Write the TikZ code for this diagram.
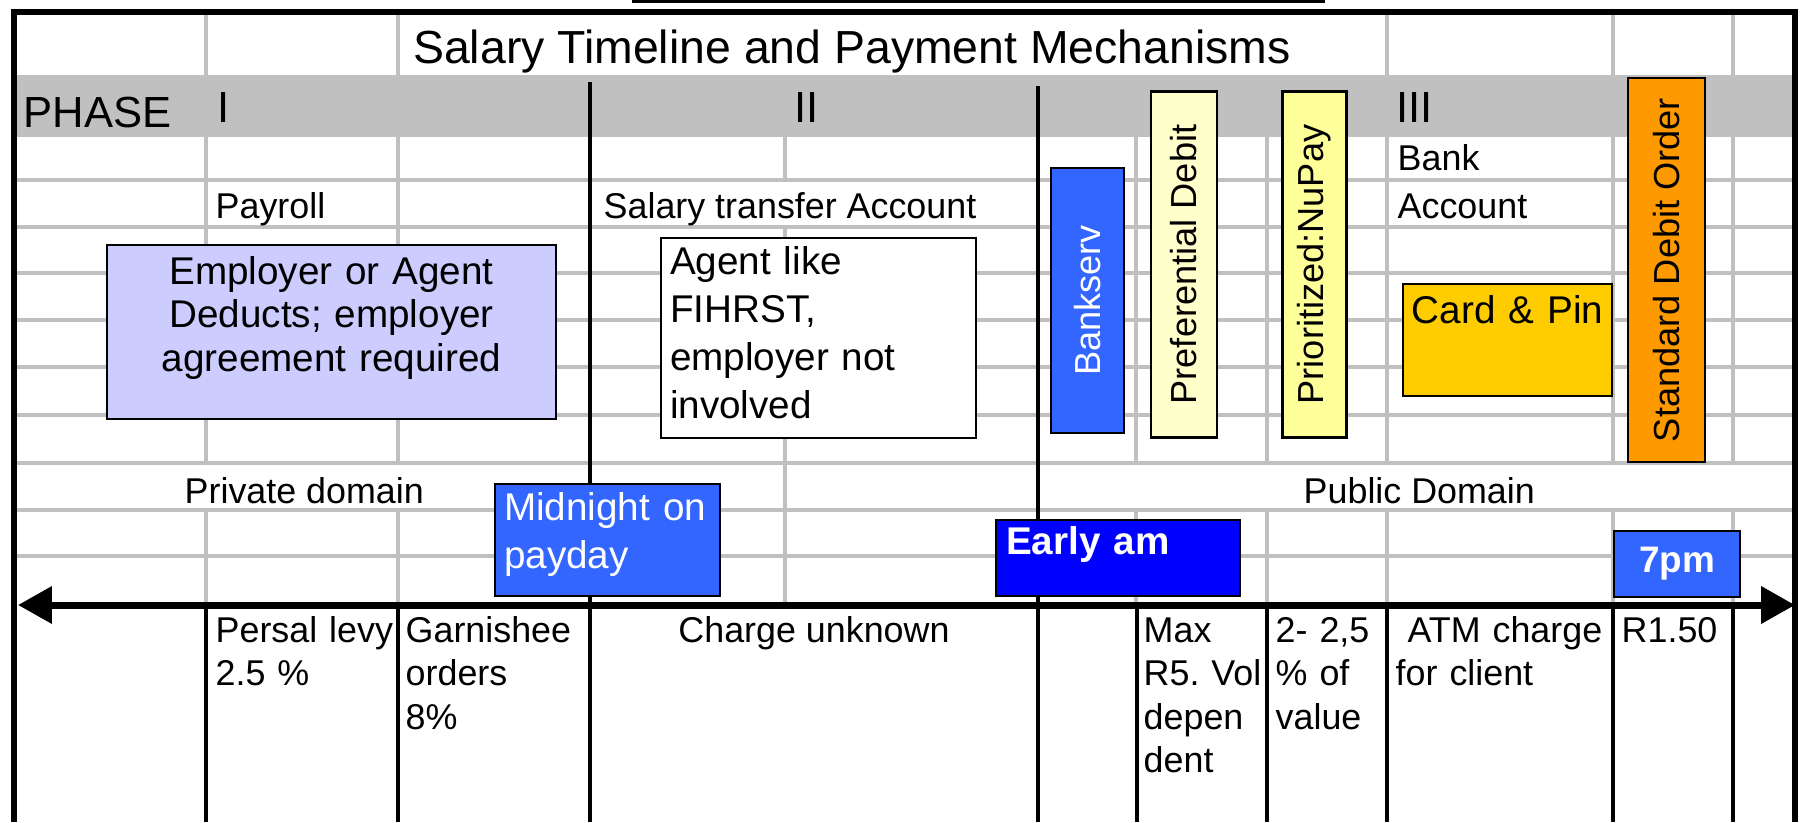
\documentclass[tikz,border=0pt]{standalone}
\usepackage{fontspec}
\setmainfont{Liberation Sans}
\usetikzlibrary{arrows.meta}
\frenchspacing

\definecolor{gridgray}{HTML}{C0C0C0}
\definecolor{lilac}{HTML}{CCCCFF}
\definecolor{midblue}{HTML}{3366FF}
\definecolor{pureblue}{HTML}{0000FF}
\definecolor{paleyellow}{HTML}{FFFFCC}
\definecolor{lightyellow}{HTML}{FFFF99}
\definecolor{cardgold}{HTML}{FFCC00}
\definecolor{debitorange}{HTML}{FF9900}

\begin{document}
\begin{tikzpicture}[
    gridline/.style={gridgray, line width=1.1pt},
    tableborder/.style={black, line width=1.5pt},
    divider/.style={black, line width=1.4pt},
    timeline/.style={line width=2pt, {Triangle[length=0.34cm, width=0.36cm]}-{Triangle[length=0.34cm, width=0.36cm]}},
    celltext/.style={inner sep=0pt, anchor=base west, align=left, font=\fontsize{10.2}{12.4}\selectfont},
    phasetext/.style={inner sep=0pt, anchor=base west, font=\fontsize{12.4}{14}\selectfont},
    box/.style={draw, line width=0.6pt, anchor=north west, inner ysep=0pt, font=\fontsize{11}{13.66}\selectfont},
    tallbox/.style={draw, line width=0.6pt, rotate=90, inner sep=0pt, font=\fontsize{10.3}{12}\selectfont}
]
\useasboundingbox (0,0) rectangle (18.05,-8.22);

% ===== TABLE: band, grid and borders =====
\draw[line width=1pt] (6.32,-0.01) -- (13.25,-0.01);
\fill[gridgray] (0.14,-0.75) rectangle (17.95,-1.37);

% Grey rows
\draw[gridline] (0.14,-1.80) -- (17.95,-1.80) (0.14,-2.27) -- (17.95,-2.27)
                (0.14,-2.73) -- (17.95,-2.73) (0.14,-3.20) -- (17.95,-3.20)
                (0.14,-3.67) -- (17.95,-3.67) (0.14,-4.15) -- (17.95,-4.15)
                (0.14,-4.63) -- (17.95,-4.63) (0.14,-5.10) -- (17.95,-5.10)
                (0.14,-5.56) -- (17.95,-5.56);

% Grey columns (broken where cells are merged)
\draw[gridline] (2.06,-0.12) -- (2.06,-0.75) (2.06,-1.37) -- (2.06,-4.63) (2.06,-5.10) -- (2.06,-6.05);
\draw[gridline] (3.98,-0.12) -- (3.98,-0.75) (3.98,-1.37) -- (3.98,-4.63) (3.98,-5.10) -- (3.98,-6.05);
\draw[gridline] (7.85,-1.37) -- (7.85,-1.80) (7.85,-2.27) -- (7.85,-6.05);
\draw[gridline] (11.36,-1.37) -- (11.36,-4.63) (11.36,-5.10) -- (11.36,-6.05);
\draw[gridline] (12.67,-1.37) -- (12.67,-4.63) (12.67,-5.10) -- (12.67,-6.05);
\draw[gridline] (13.87,-0.12) -- (13.87,-0.75) (13.87,-1.37) -- (13.87,-4.63) (13.87,-5.10) -- (13.87,-6.05);
\draw[gridline] (16.13,-0.12) -- (16.13,-0.75) (16.13,-1.37) -- (16.13,-4.63) (16.13,-5.10) -- (16.13,-6.05);
\draw[gridline] (17.33,-0.12) -- (17.33,-0.75) (17.33,-1.37) -- (17.33,-4.63) (17.33,-5.10) -- (17.33,-6.05);

% Black border and phase dividers
\draw[tableborder] (0.14,-8.22) -- (0.14,-0.12) -- (17.95,-0.12) -- (17.95,-8.22);
\draw[divider] (5.90,-0.82) -- (5.90,-8.22);
\draw[divider] (10.38,-0.86) -- (10.38,-8.22);

% Charge columns under the time line
\draw[divider] (2.06,-6.05) -- (2.06,-8.22) (3.98,-6.05) -- (3.98,-8.22)
               (11.37,-6.05) -- (11.37,-8.22) (12.67,-6.05) -- (12.67,-8.22)
               (13.87,-6.05) -- (13.87,-8.22) (16.13,-6.05) -- (16.13,-8.22)
               (17.33,-6.05) -- (17.33,-8.22);

% Time line
\coordinate (tl_start) at (0.18,-6.05);
\coordinate (tl_end) at (17.95,-6.05);
\draw[timeline] (tl_start) -- (tl_end);

% ===== HEADINGS =====
\node[inner sep=0pt, anchor=base, font=\fontsize{13.2}{15}\selectfont] (title) at (8.52,-0.63) {Salary Timeline and Payment Mechanisms};
\node[phasetext] (phase) at (0.23,-1.27) {PHASE};
\node[phasetext] (phase_i) at (2.17,-1.22) {I};
\node[phasetext] (phase_ii) at (7.94,-1.22) {II};
\node[phasetext] (phase_iii) at (13.96,-1.22) {III};

% Account types
\node[celltext] (payroll) at (2.15,-2.18) {Payroll};
\node[celltext] (transfer) at (6.03,-2.18) {Salary transfer Account};
\node[celltext, text width=2.2cm, font=\fontsize{10.2}{13.66}\selectfont] (bank) at (13.97,-1.70) {Bank\\Account};

% Domains
\node[celltext] (private) at (1.84,-5.03) {Private domain};
\node[celltext] (public) at (13.03,-5.03) {Public Domain};

% ===== MECHANISMS =====
\node[box, fill=lilac, text width=4.49cm, inner xsep=0pt, align=center, text height=0.39cm, text depth=1.35cm, font=\fontsize{11}{12.5}\selectfont] (deduct) at (1.06,-2.44) {Employer or Agent\\Deducts; employer\\agreement required};
\node[box, fill=white, text width=2.97cm, inner xsep=0.09cm, align=left, text height=0.36cm, text depth=1.64cm] (agent) at (6.60,-2.37) {Agent like\\FIHRST,\\employer not\\involved};

\node[tallbox, fill=midblue, text=white, minimum width=2.65cm, minimum height=0.73cm] (bankserv) at (10.875,-3.005) {Bankserv};
\node[tallbox, fill=paleyellow, minimum width=3.46cm, minimum height=0.66cm] (preferential) at (11.84,-2.645) {Preferential Debit};
\node[tallbox, fill=lightyellow, minimum width=3.46cm, minimum height=0.64cm] (nupay) at (13.145,-2.645) {Prioritized:NuPay};
\node[box, fill=cardgold, text width=2.09cm, inner xsep=0pt, align=center, text height=0.39cm, text depth=0.73cm] (card) at (14.02,-2.83) {Card \& Pin};
\node[tallbox, fill=debitorange, minimum width=3.84cm, minimum height=0.77cm] (debitorder) at (16.665,-2.70) {Standard Debit Order};

% Times
\node[box, fill=midblue, text=white, text width=2.07cm, inner xsep=0.09cm, align=left, text height=0.36cm, text depth=0.76cm] (midnight) at (4.94,-4.83) {Midnight on\\payday};
\node[box, fill=pureblue, text=white, text width=2.24cm, inner xsep=0.10cm, align=left, text height=0.34cm, text depth=0.42cm, font=\fontsize{11}{13.66}\selectfont\bfseries] (early) at (9.95,-5.19) {Early am};
\node[box, anchor=center, fill=midblue, text=white, minimum width=1.26cm, minimum height=0.66cm, font=\fontsize{10.5}{13}\selectfont\bfseries] (sevenpm) at (16.77,-5.64) {7pm};

% ===== CHARGES =====
\node[celltext, text width=2.2cm] (persal) at (2.15,-6.42) {Persal levy\\2.5 \%};
\node[celltext, text width=2.2cm] (garnishee) at (4.05,-6.42) {Garnishee\\orders\\8\%};
\node[celltext, anchor=base] (unknown) at (8.14,-6.42) {Charge unknown};
\node[celltext, text width=2.2cm] (maxfee) at (11.43,-6.42) {Max\\R5. Vol\\depen\\dent};
\node[celltext, text width=2.2cm] (valuefee) at (12.75,-6.42) {2- 2,5\\\% of\\value};
\node[celltext, text width=2.3cm] (atm) at (13.95,-6.42) {\ ATM charge\\for client};
\node[celltext] (flatfee) at (16.21,-6.42) {R1.50};

\end{tikzpicture}
\end{document}
